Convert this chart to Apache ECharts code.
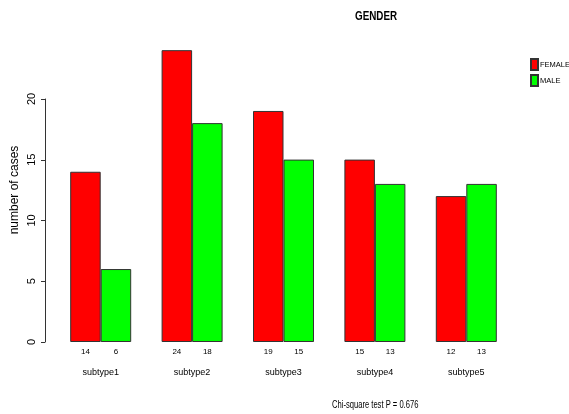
<!DOCTYPE html>
<html><head><meta charset="utf-8">
<script src="https://cdn.jsdelivr.net/npm/echarts@6/dist/echarts.min.js"></script>
<style>html,body{margin:0;padding:0;background:#fff}#c{width:569px;height:414px}</style>
</head><body><div id="c"></div>
<script>
const categories = ['subtype1','subtype2','subtype3','subtype4','subtype5'];
const female = [14, 24, 19, 15, 12];
const male = [6, 18, 15, 13, 13];
const yTicks = [0, 5, 10, 15, 20];
const seriesNames = ['FEMALE', 'MALE'];
const titleText = 'GENDER';
const noteText = 'Chi-square test P = 0.676';
const yName = 'number of cases';

const FONT = '"Liberation Sans", Arial, Helvetica, sans-serif';
const chart = echarts.init(document.getElementById('c'), null, {renderer: 'canvas'});
chart.setOption({
  animation: false,
  backgroundColor: '#fff',
  graphic: [
    {type: 'text', x: 355, y: 17, scaleX: 0.82,
     style: {text: titleText, font: 'bold 12px ' + FONT, fill: '#000', textAlign: 'left', textVerticalAlign: 'middle'}},
    {type: 'text', x: 332, y: 405, scaleX: 0.76,
     style: {text: noteText, font: '10px ' + FONT, fill: '#000', textAlign: 'left', textVerticalAlign: 'middle'}}
  ],
  legend: {
    orient: 'vertical', left: 530, top: 58, padding: 0, itemWidth: 7, itemHeight: 11, itemGap: 3,
    icon: 'rect',
    textStyle: {fontFamily: FONT, fontSize: 7.5, color: '#000', padding: [0, 0, 0, -3]},
    data: seriesNames
  },
  grid: [
    {left: 55, right: 57, top: 38, bottom: 72},
    {left: 45, right: 57, top: 99, bottom: 72}
  ],
  xAxis: [
    {type: 'category', gridIndex: 0, data: categories,
     axisLine: {show: false}, axisTick: {show: false},
     axisLabel: {margin: 26, fontFamily: FONT, fontSize: 9, color: '#000'}},
    {type: 'category', gridIndex: 1, data: categories, show: false}
  ],
  yAxis: [
    {type: 'value', gridIndex: 0, min: 0, max: 25,
     axisLine: {show: false}, axisTick: {show: false}, axisLabel: {show: false}, splitLine: {show: false},
     name: yName, nameLocation: 'middle', nameGap: 34,
     nameTextStyle: {fontFamily: FONT, fontSize: 12, color: '#000'}},
    {type: 'value', gridIndex: 1, min: yTicks[0], max: yTicks[yTicks.length - 1], interval: 5,
     axisLine: {show: true, lineStyle: {color: '#333', width: 1}},
     axisTick: {show: true, length: 4, lineStyle: {color: '#333'}},
     axisLabel: {rotate: 90, margin: 8, fontFamily: FONT, fontSize: 11, color: '#000'},
     splitLine: {show: false}}
  ],
  series: [
    {name: seriesNames[0], type: 'bar', xAxisIndex: 0, yAxisIndex: 0, data: female, barWidth: 30.5, barGap: '0%',
     itemStyle: {color: '#FF0000', borderColor: '#333', borderWidth: 1},
     label: {show: true, position: 'bottom', distance: 6, fontFamily: FONT, fontSize: 8, color: '#000'}},
    {name: seriesNames[1], type: 'bar', xAxisIndex: 0, yAxisIndex: 0, data: male, barWidth: 30.5, barGap: '0%',
     itemStyle: {color: '#00FF00', borderColor: '#333', borderWidth: 1},
     label: {show: true, position: 'bottom', distance: 6, fontFamily: FONT, fontSize: 8, color: '#000'}},
    {type: 'line', xAxisIndex: 1, yAxisIndex: 1, data: [], silent: true}
  ]
});
</script></body></html>
